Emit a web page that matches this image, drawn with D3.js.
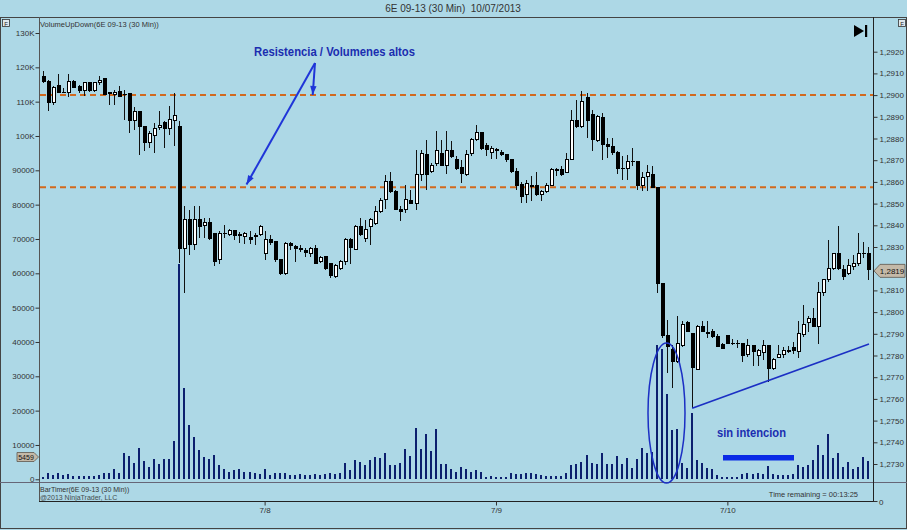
<!DOCTYPE html>
<html><head><meta charset="utf-8">
<script src="https://cdn.jsdelivr.net/npm/d3@7"></script>
<style>html,body{margin:0;padding:0;background:#add8e6;} svg{display:block;}</style>
</head><body>
<svg id="c" width="907" height="530"></svg>
<script>
// ---- DATA (6E 09-13, 30 min bars) ----
const opens = [
1.29084,1.29064,1.28964,1.29044,1.29014,1.29013,1.29064,1.29040,1.29020,1.29056,
1.29020,1.29056,1.29076,1.29010,1.29005,1.29016,1.29005,1.29007,1.28884,1.28925,
1.28856,1.28782,1.28813,1.28851,1.28874,1.28844,1.28884,1.28856,1.28292,1.28425,
1.28313,1.28425,1.28399,1.28415,1.28364,1.28241,1.28364,1.28356,1.28376,1.28356,
1.28349,1.28344,1.28353,1.28356,1.28272,1.28333,1.28326,1.28244,1.28176,1.28315,
1.28302,1.28295,1.28284,1.28272,1.28295,1.28235,1.28256,1.28226,1.28164,1.28203,
1.28233,1.28333,1.28290,1.28395,1.28341,1.28395,1.28410,1.28464,1.28518,1.28602,
1.28556,1.28475,1.28475,1.28515,1.28502,1.28633,1.28725,1.28648,1.28684,1.28733,
1.28675,1.28745,1.28705,1.28668,1.28633,1.28733,1.28794,1.28828,1.28767,1.28736,
1.28748,1.28736,1.28725,1.28702,1.28648,1.28587,1.28541,1.28582,1.28582,1.28544,
1.28556,1.28582,1.28656,1.28656,1.28644,1.28705,1.28884,1.28853,1.28987,1.28910,
1.28791,1.28899,1.28771,1.28764,1.28736,1.28664,1.28664,1.28695,1.28695,1.28582,
1.28625,1.28633,1.28575,1.28133,1.27890,1.27829,1.27772,1.27844,1.27952,1.27903,
1.27734,1.27933,1.27906,1.27910,1.27887,1.27849,1.27890,1.27857,1.27857,1.27854,
1.27803,1.27844,1.27798,1.27814,1.27844,1.27741,1.27792,1.27803,1.27823,1.27838,
1.27818,1.27895,1.27952,1.27972,1.27933,1.28090,1.28149,1.28203,1.28272,1.28195,
1.28176,1.28210,1.28223,1.28272,1.28272];
const highs = [
1.29110,1.29068,1.29040,1.29099,1.29033,1.29099,1.29068,1.29048,1.29060,1.29059,
1.29059,1.29087,1.29076,1.29014,1.29025,1.29044,1.29022,1.29007,1.28944,1.28925,
1.28856,1.28833,1.28871,1.28925,1.28879,1.28948,1.29010,1.28879,1.28487,1.28472,
1.28487,1.28487,1.28433,1.28433,1.28364,1.28372,1.28402,1.28382,1.28379,1.28367,
1.28367,1.28372,1.28364,1.28402,1.28372,1.28356,1.28326,1.28244,1.28321,1.28321,
1.28310,1.28310,1.28295,1.28302,1.28310,1.28259,1.28259,1.28226,1.28223,1.28241,
1.28341,1.28341,1.28402,1.28433,1.28425,1.28433,1.28487,1.28525,1.28633,1.28644,
1.28564,1.28487,1.28587,1.28564,1.28748,1.28745,1.28794,1.28687,1.28833,1.28794,
1.28833,1.28787,1.28718,1.28702,1.28745,1.28802,1.28864,1.28828,1.28779,1.28767,
1.28756,1.28748,1.28730,1.28705,1.28664,1.28598,1.28610,1.28625,1.28644,1.28564,
1.28595,1.28664,1.28664,1.28671,1.28733,1.28933,1.28979,1.29017,1.29010,1.28933,
1.28910,1.28917,1.28802,1.28802,1.28741,1.28718,1.28725,1.28756,1.28695,1.28644,
1.28679,1.28671,1.28575,1.28133,1.27964,1.27849,1.27980,1.27957,1.27957,1.27903,
1.27941,1.27957,1.27957,1.27921,1.27900,1.27857,1.27895,1.27875,1.27872,1.27854,
1.27875,1.27849,1.27829,1.27872,1.27844,1.27787,1.27849,1.27838,1.27844,1.27864,
1.27957,1.28033,1.27980,1.28018,1.28141,1.28152,1.28333,1.28272,1.28398,1.28218,
1.28244,1.28264,1.28364,1.28321,1.28299];
const lows = [
1.29056,1.28925,1.28956,1.29010,1.29010,1.28990,1.29033,1.29010,1.28997,1.29013,
1.29013,1.29048,1.29002,1.28953,1.28956,1.28991,1.28887,1.28825,1.28841,1.28722,
1.28741,1.28756,1.28733,1.28841,1.28756,1.28818,1.28764,1.28226,1.28087,1.28264,
1.28287,1.28341,1.28341,1.28333,1.28213,1.28223,1.28341,1.28349,1.28333,1.28318,
1.28315,1.28315,1.28310,1.28349,1.28241,1.28310,1.28233,1.28172,1.28172,1.28287,
1.28233,1.28275,1.28256,1.28256,1.28223,1.28226,1.28192,1.28156,1.28156,1.28195,
1.28218,1.28223,1.28284,1.28349,1.28321,1.28310,1.28402,1.28456,1.28475,1.28548,
1.28472,1.28422,1.28456,1.28499,1.28472,1.28602,1.28564,1.28641,1.28675,1.28671,
1.28638,1.28710,1.28656,1.28595,1.28625,1.28718,1.28787,1.28748,1.28718,1.28705,
1.28705,1.28721,1.28690,1.28641,1.28561,1.28502,1.28502,1.28510,1.28533,1.28510,
1.28548,1.28579,1.28625,1.28628,1.28641,1.28702,1.28848,1.28848,1.28802,1.28741,
1.28782,1.28702,1.28710,1.28725,1.28638,1.28610,1.28610,1.28671,1.28561,1.28556,
1.28556,1.28572,1.28087,1.27880,1.27718,1.27649,1.27764,1.27838,1.27906,1.27557,
1.27731,1.27906,1.27880,1.27880,1.27838,1.27829,1.27854,1.27849,1.27834,1.27772,
1.27795,1.27752,1.27752,1.27780,1.27680,1.27734,1.27787,1.27787,1.27810,1.27807,
1.27787,1.27884,1.27906,1.27930,1.27854,1.28075,1.28141,1.28195,1.28195,1.28146,
1.28172,1.28195,1.28213,1.28249,1.28146];
const closes = [
1.29062,1.28964,1.29033,1.29013,1.29014,1.29064,1.29037,1.29022,1.29056,1.29020,
1.29056,1.29068,1.29005,1.29008,1.29014,1.28994,1.29004,1.28884,1.28925,1.28856,
1.28782,1.28825,1.28845,1.28862,1.28844,1.28887,1.28905,1.28292,1.28425,1.28313,
1.28425,1.28395,1.28415,1.28341,1.28233,1.28364,1.28362,1.28376,1.28352,1.28355,
1.28361,1.28336,1.28352,1.28395,1.28333,1.28321,1.28241,1.28179,1.28318,1.28307,
1.28295,1.28287,1.28275,1.28295,1.28226,1.28253,1.28203,1.28167,1.28215,1.28233,
1.28333,1.28299,1.28395,1.28356,1.28379,1.28425,1.28464,1.28513,1.28602,1.28556,
1.28475,1.28464,1.28521,1.28502,1.28633,1.28733,1.28633,1.28675,1.28745,1.28675,
1.28745,1.28715,1.28664,1.28641,1.28725,1.28794,1.28828,1.28756,1.28748,1.28756,
1.28746,1.28725,1.28702,1.28648,1.28582,1.28533,1.28592,1.28581,1.28541,1.28556,
1.28582,1.28656,1.28655,1.28633,1.28705,1.28884,1.28853,1.28971,1.28884,1.28794,
1.28902,1.28771,1.28764,1.28736,1.28664,1.28662,1.28695,1.28693,1.28582,1.28618,
1.28644,1.28575,1.28133,1.27890,1.27841,1.27772,1.27857,1.27944,1.27910,1.27746,
1.27933,1.27910,1.27904,1.27887,1.27841,1.27834,1.27857,1.27855,1.27855,1.27798,
1.27844,1.27818,1.27823,1.27844,1.27741,1.27783,1.27803,1.27823,1.27821,1.27823,
1.27903,1.27944,1.27972,1.27933,1.28090,1.28149,1.28203,1.28272,1.28203,1.28164,
1.28213,1.28223,1.28272,1.28270,1.28195];
const volumes = [
800,1750,1260,1750,1160,1550,970,970,970,970,
970,1260,1750,1940,2900,1940,7770,6900,4850,9200,
5240,3700,6000,4370,5900,5800,11200,62700,26500,15700,
12400,8500,6600,5830,7090,4170,2900,2040,2720,2900,
2230,2040,1750,1460,2900,1260,1750,1750,1940,1260,
1260,1460,1260,1260,1460,1260,1460,1750,1460,1750,
4660,2720,5630,5150,4170,5630,6410,6120,7770,4170,
4170,4660,8740,6800,14860,8740,13200,8250,14570,4370,
4370,2900,2230,3690,2900,2230,2720,2040,780,1070,
580,580,580,1750,1460,1460,1750,1750,1460,1260,
1070,1070,1070,1070,1750,4170,4370,4950,7090,4850,
4470,7770,4470,4470,6800,4470,6120,3200,5830,9030,
7570,8000,39000,38000,24900,14400,14600,4660,3200,19200,
5630,4660,3200,2900,1260,780,780,580,780,1460,
1750,1460,1940,1460,3880,1460,1260,1260,1260,1460,
4170,3690,4170,5630,10000,7090,13200,6300,7570,3690,
5150,2900,3690,6400,5459];
const dayTickIndex = [44, 90, 136];
const dayTickLabels = ["7/8", "7/9", "7/10"];
// 1.2820 is hidden behind the last-price tag in the reference
const priceTicks = [1.2730,1.2740,1.2750,1.2760,1.2770,1.2780,1.2790,1.2800,1.2810,
                    1.2830,1.2840,1.2850,1.2860,1.2870,1.2880,1.2890,1.2900,1.2910,1.2920];
const volumeTicks = [0,10000,20000,30000,40000,50000,60000,70000,80000,90000,100000,110000,120000,130000];
const resistanceLevels = [1.2900, 1.28575];
const lastPrice = 1.2819;
const lastVolume = 5459;
const titleText = "6E 09-13 (30 Min)  10/07/2013";

// ---- DRAW ----
const svg = d3.select("#c");
const FONT = "'Liberation Sans', Arial, sans-serif";
const AX = "#333";
svg.append("rect").attr("width",907).attr("height",530).attr("fill","#add8e6");

const N = opens.length;
const x = d3.scaleLinear().domain([0, N-1]).range([43.3, 868.2]);
const yP = d3.scaleLinear().domain([1.2730, 1.2920]).range([464, 51.7]);
const yV = d3.scaleLinear().domain([0, 130000]).range([479.3, 33]);

// frame
const g0 = svg.append("g").attr("stroke","#444").attr("stroke-width",1).attr("shape-rendering","crispEdges");
g0.append("line").attr("x1",0).attr("x2",907).attr("y1",17.5).attr("y2",17.5);
g0.append("line").attr("x1",0.5).attr("x2",0.5).attr("y1",17).attr("y2",529);
g0.append("line").attr("x1",906.5).attr("x2",906.5).attr("y1",17).attr("y2",529);
g0.append("line").attr("x1",0).attr("x2",907).attr("y1",528.5).attr("y2",528.5);
g0.append("line").attr("x1",0).attr("x2",907).attr("y1",482.5).attr("y2",482.5).attr("stroke","#667");
g0.append("line").attr("x1",39.5).attr("x2",39.5).attr("y1",17).attr("y2",502).attr("stroke","#555");
g0.append("line").attr("x1",873.5).attr("x2",873.5).attr("y1",17).attr("y2",502).attr("stroke","#222");
g0.append("line").attr("x1",39).attr("x2",874).attr("y1",501.5).attr("y2",501.5).attr("stroke","#222");

// title
svg.append("text").attr("x",453).attr("y",12).attr("text-anchor","middle").style("white-space","pre")
  .attr("font-family",FONT).attr("font-size",10).attr("fill","#333").text(titleText);

// F boxes & icon
[[2.5,19.5],[898.5,19.5]].forEach(p=>{
  svg.append("rect").attr("x",p[0]).attr("y",p[1]).attr("width",7).attr("height",7)
    .attr("fill","#dfe8ec").attr("stroke","#333").attr("stroke-width",0.8);
  svg.append("text").attr("x",p[0]+3.5).attr("y",p[1]+6).attr("text-anchor","middle")
    .attr("font-family",FONT).attr("font-size",6).attr("fill","#222").text("F");
});
svg.append("path").attr("d","M854,25 L864,31 L854,37 Z").attr("fill","#000");
svg.append("rect").attr("x",865).attr("y",25).attr("width",2.2).attr("height",12).attr("fill","#000");

// indicator labels
svg.append("text").attr("x",40).attr("y",27).attr("font-family",FONT).attr("font-size",7.5)
  .attr("fill","#333").text("VolumeUpDown(6E 09-13 (30 Min))");
svg.append("text").attr("x",40).attr("y",491.5).attr("font-family",FONT).attr("font-size",7)
  .attr("fill","#333").text("BarTimer(6E 09-13 (30 Min))");
svg.append("text").attr("x",40).attr("y",499.5).attr("font-family",FONT).attr("font-size",7)
  .attr("fill","#333").attr("opacity",0.85).text("@2013 NinjaTrader, LLC");
svg.append("text").attr("x",858).attr("y",497).attr("text-anchor","end").attr("font-family",FONT)
  .attr("font-size",7.5).attr("fill","#333").text("Time remaining = 00:13:25");

// right price axis
const fmtP = d => d3.format(".4f")(d).replace(".", ",");
const ra = svg.append("g").attr("transform","translate(873.5,0)")
  .call(d3.axisRight(yP).tickValues(priceTicks).tickFormat(fmtP).tickSize(4).tickPadding(2).tickSizeOuter(0));
ra.select(".domain").remove();
ra.selectAll("line").attr("stroke","#333");
ra.selectAll("text").attr("font-family",FONT).attr("font-size",8).attr("fill",AX);
// bottom "0" on right
svg.append("line").attr("x1",873.5).attr("x2",877.5).attr("y1",501.5).attr("y2",501.5).attr("stroke","#333");
svg.append("text").attr("x",879).attr("y",504.5).attr("font-family",FONT).attr("font-size",8).attr("fill",AX).text("0");

// left volume axis
const fmtV = d => d >= 100000 ? (d/1000) + "K" : String(d);
const la = svg.append("g").attr("transform","translate(39.5,0)")
  .call(d3.axisLeft(yV).tickValues(volumeTicks).tickFormat(fmtV).tickSize(4).tickPadding(1).tickSizeOuter(0));
la.select(".domain").remove();
la.selectAll("line").attr("stroke","#333");
la.selectAll("text").attr("font-family",FONT).attr("font-size",8).attr("fill",AX);

// bottom date axis
const ba = svg.append("g").attr("transform","translate(0,501.5)")
  .call(d3.axisBottom(x).tickValues(dayTickIndex).tickFormat((d,i)=>dayTickLabels[i]).tickSize(4).tickPadding(2).tickSizeOuter(0));
ba.select(".domain").remove();
ba.selectAll("line").attr("stroke","#333");
ba.selectAll("text").attr("font-family",FONT).attr("font-size",8).attr("fill",AX);

// resistance dashed lines
svg.append("g").selectAll("line").data(resistanceLevels).join("line")
  .attr("x1",40).attr("x2",873).attr("y1",d=>yP(d)).attr("y2",d=>yP(d))
  .attr("stroke","#d2691e").attr("stroke-width",2).attr("stroke-dasharray","6,4");

// volume bars
const idx = d3.range(N);
svg.append("g").attr("shape-rendering","crispEdges").selectAll("rect").data(idx).join("rect")
  .attr("x", i => Math.round(x(i)) - 1).attr("width", 2)
  .attr("y", i => yV(volumes[i])).attr("height", i => yV(0) - yV(volumes[i]))
  .attr("fill", "#0c1f6e");

// candles
const cg = svg.append("g").attr("shape-rendering","crispEdges");
cg.selectAll("line").data(idx).join("line")
  .attr("x1", i => Math.round(x(i)) + 0.5).attr("x2", i => Math.round(x(i)) + 0.5)
  .attr("y1", i => yP(highs[i])).attr("y2", i => yP(lows[i]))
  .attr("stroke", "#111").attr("stroke-width", 1);
cg.selectAll("rect").data(idx).join("rect")
  .attr("x", i => Math.round(x(i)) - 1)
  .attr("width", 3)
  .attr("y", i => yP(Math.max(opens[i], closes[i])))
  .attr("height", i => Math.max(0.6, Math.abs(yP(opens[i]) - yP(closes[i]))))
  .attr("fill", i => closes[i] > opens[i] ? "#ffffff" : "#000000")
  .attr("stroke", "#000").attr("stroke-width", 1);

// last price tag (right)
const ly = yP(lastPrice);
svg.append("path").attr("d",`M874,${ly} L880,${ly-6.5} L905,${ly-6.5} L905,${ly+6.5} L880,${ly+6.5} Z`)
  .attr("fill","#c4b9a8").attr("stroke","#5e574c").attr("stroke-width",0.8);
svg.append("text").attr("x",892).attr("y",ly+3).attr("text-anchor","middle").attr("font-family",FONT)
  .attr("font-size",8).attr("fill","#111").text(fmtP(lastPrice));
// last volume tag (left)
const vy = 457;
svg.append("path").attr("d",`M17,${vy-4.5} L34,${vy-4.5} L38.5,${vy} L34,${vy+4.5} L17,${vy+4.5} Z`)
  .attr("fill","#c4b9a8").attr("stroke","#5e574c").attr("stroke-width",0.8);
svg.append("text").attr("x",26).attr("y",vy+2.7).attr("text-anchor","middle").attr("font-family",FONT)
  .attr("font-size",7).attr("fill","#111").text(String(lastVolume));

// ---- annotations ----
const BLUE = "#1f35d8";
function arrow(x1,y1,x2,y2){
  svg.append("line").attr("x1",x1).attr("y1",y1).attr("x2",x2).attr("y2",y2)
    .attr("stroke",BLUE).attr("stroke-width",2);
  const a = Math.atan2(y2-y1, x2-x1), L = 9, Wd = 3.2;
  const bx = x2 - L*Math.cos(a), by = y2 - L*Math.sin(a);
  const px = -Math.sin(a)*Wd, py = Math.cos(a)*Wd;
  svg.append("path").attr("d",`M${x2},${y2} L${bx+px},${by+py} L${bx-px},${by-py} Z`).attr("fill",BLUE);
}
arrow(315, 63, 246.5, 184.5);
arrow(315, 63, 312.7, 95);
svg.append("text").attr("x",254).attr("y",56).attr("font-family",FONT).attr("font-weight","bold")
  .attr("font-size",13).attr("fill","#1b2db0").attr("textLength",161).attr("lengthAdjust","spacingAndGlyphs")
  .text("Resistencia / Volumenes altos");

svg.append("ellipse").attr("cx",666.5).attr("cy",413).attr("rx",18.5).attr("ry",70)
  .attr("fill","none").attr("stroke","#1b2fc4").attr("stroke-width",1.5);
svg.append("line").attr("x1",x(129)).attr("y1",yP(lows[129])).attr("x2",869).attr("y2",344)
  .attr("stroke","#1b2fc4").attr("stroke-width",1.5);
svg.append("text").attr("x",717).attr("y",437).attr("font-family",FONT).attr("font-weight","bold")
  .attr("font-size",13).attr("fill","#1b2db0").attr("textLength",69).attr("lengthAdjust","spacingAndGlyphs")
  .text("sin intencion");
svg.append("rect").attr("x",723).attr("y",455).attr("width",71).attr("height",5.5).attr("fill","#0a2ae6");
</script>
</body></html>
